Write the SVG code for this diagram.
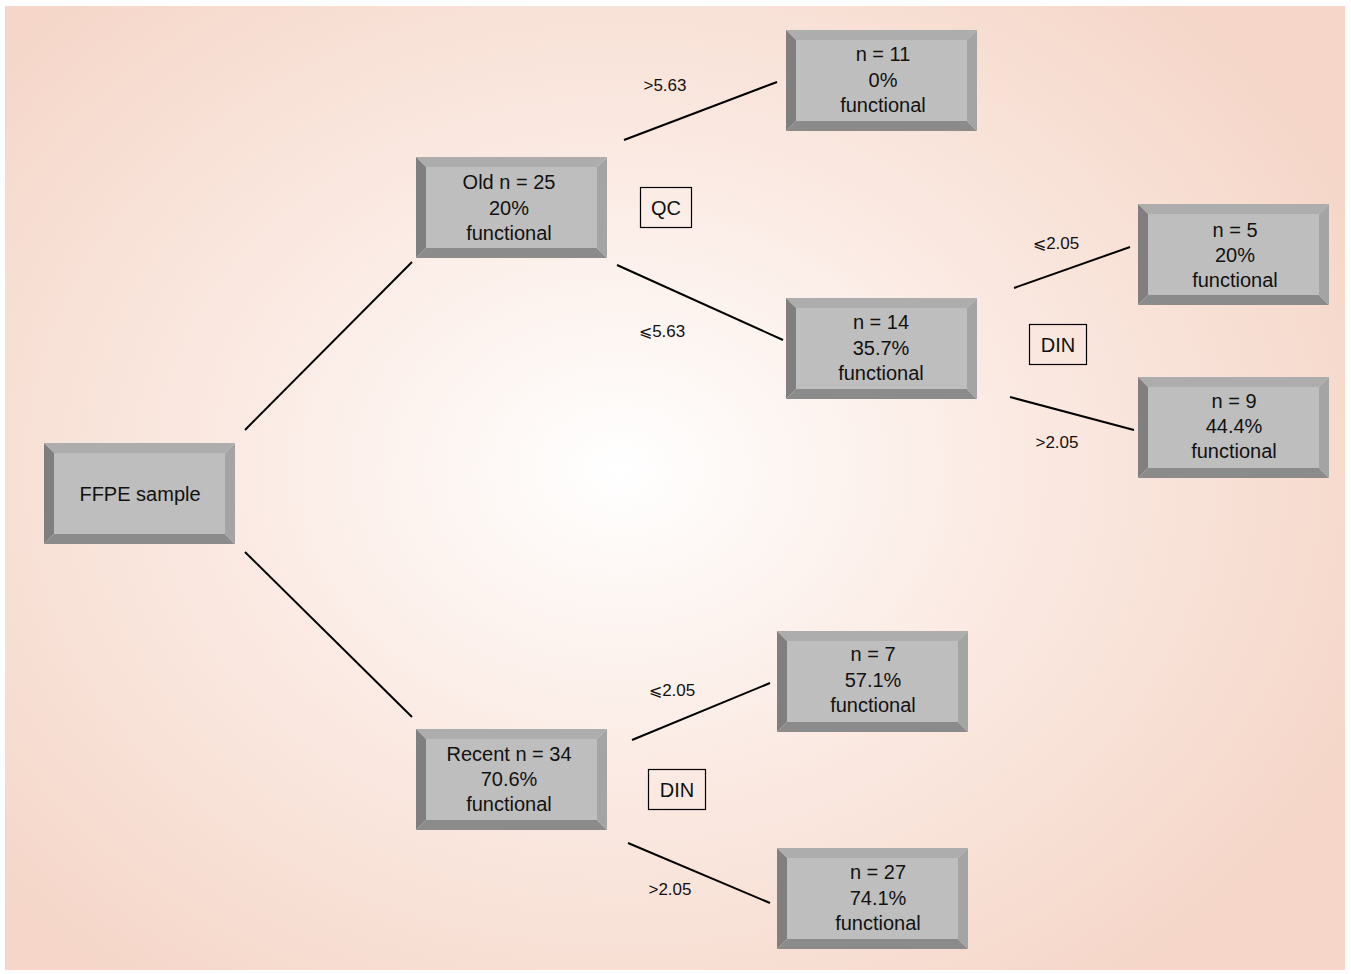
<svg xmlns="http://www.w3.org/2000/svg" xmlns:xlink="http://www.w3.org/1999/xlink" width="1351" height="974" viewBox="0 0 1351 974">
<defs>
<radialGradient id="bg" cx="620" cy="470" r="820" gradientUnits="userSpaceOnUse" gradientTransform="translate(620 470) scale(1 0.8) translate(-620 -470)">
<stop offset="0" stop-color="#ffffff"/>
<stop offset="0.45" stop-color="#fbebe4"/>
<stop offset="1" stop-color="#f5d6c8"/>
</radialGradient>
<g id="bevel">
<polygon points="0,0 191,0 181,10 10,10" fill="#adadad"/>
<polygon points="0,0 10,10 10,91 0,101" fill="#7f7f7f"/>
<polygon points="0,101 10,91 181,91 191,101" fill="#8b8b8b"/>
<polygon points="191,0 191,101 181,91 181,10" fill="#a4a4a4"/>
<rect x="10" y="10" width="171" height="81" fill="#bebebe"/>
</g>
</defs>
<style>
.t{font-family:"Liberation Sans",Arial,sans-serif;font-size:20px;fill:#111;text-anchor:middle}
.l{font-family:"Liberation Sans","DejaVu Sans",Arial,sans-serif;font-size:17px;fill:#111;text-anchor:middle}
.s{font-family:"DejaVu Sans",sans-serif;font-size:16px}
.c{stroke:#000;stroke-width:2;fill:none}
.b{fill:none;stroke:#000;stroke-width:1.2}
</style>
<rect width="1351" height="974" fill="#ffffff"/>
<rect x="5" y="6" width="1340" height="964" fill="url(#bg)"/>
<g id="connectors">
<line class="c" x1="245" y1="430" x2="412" y2="262"/>
<line class="c" x1="245" y1="552" x2="412" y2="717"/>
<line class="c" x1="624" y1="140" x2="777" y2="82"/>
<line class="c" x1="617" y1="265" x2="783" y2="340"/>
<line class="c" x1="1014" y1="288" x2="1130" y2="247"/>
<line class="c" x1="1010" y1="397" x2="1134" y2="430"/>
<line class="c" x1="632" y1="740" x2="770" y2="683"/>
<line class="c" x1="628" y1="843" x2="770" y2="903"/>
<text class="l" x="665" y="91">&gt;5.63</text>
<text class="l" x="662" y="337"><tspan class="s">⩽</tspan>5.63</text>
<text class="l" x="1056" y="249"><tspan class="s">⩽</tspan>2.05</text>
<text class="l" x="1057" y="448">&gt;2.05</text>
<text class="l" x="672" y="696"><tspan class="s">⩽</tspan>2.05</text>
<text class="l" x="670" y="895">&gt;2.05</text>
<rect class="b" x="640.5" y="187.5" width="51" height="40"/>
<text class="t" x="666" y="215">QC</text>
<rect class="b" x="1029.5" y="324.5" width="57" height="40"/>
<text class="t" x="1058" y="352">DIN</text>
<rect class="b" x="648.5" y="769.5" width="57" height="40"/>
<text class="t" x="677" y="797">DIN</text>
</g>
<g id="ffpe">
<use xlink:href="#bevel" x="44" y="443"/>
<text class="t" x="140" y="501">FFPE sample</text>
</g>
<g id="old">
<use xlink:href="#bevel" x="416" y="157"/>
<text class="t" x="509" y="189">Old n = 25</text>
<text class="t" x="509" y="215">20%</text>
<text class="t" x="509" y="240">functional</text>
</g>
<g id="recent">
<use xlink:href="#bevel" x="416" y="729"/>
<text class="t" x="509" y="761">Recent n = 34</text>
<text class="t" x="509" y="786">70.6%</text>
<text class="t" x="509" y="811">functional</text>
</g>
<g id="n11">
<use xlink:href="#bevel" x="786" y="30"/>
<text class="t" x="883" y="61">n = 11</text>
<text class="t" x="883" y="87">0%</text>
<text class="t" x="883" y="112">functional</text>
</g>
<g id="n14">
<use xlink:href="#bevel" x="786" y="298"/>
<text class="t" x="881" y="329">n = 14</text>
<text class="t" x="881" y="355">35.7%</text>
<text class="t" x="881" y="380">functional</text>
</g>
<g id="n5">
<use xlink:href="#bevel" x="1138" y="204"/>
<text class="t" x="1235" y="237">n = 5</text>
<text class="t" x="1235" y="262">20%</text>
<text class="t" x="1235" y="287">functional</text>
</g>
<g id="n9">
<use xlink:href="#bevel" x="1138" y="377"/>
<text class="t" x="1234" y="408">n = 9</text>
<text class="t" x="1234" y="433">44.4%</text>
<text class="t" x="1234" y="458">functional</text>
</g>
<g id="n7">
<use xlink:href="#bevel" x="777" y="631"/>
<text class="t" x="873" y="661">n = 7</text>
<text class="t" x="873" y="687">57.1%</text>
<text class="t" x="873" y="712">functional</text>
</g>
<g id="n27">
<use xlink:href="#bevel" x="777" y="848"/>
<text class="t" x="878" y="879">n = 27</text>
<text class="t" x="878" y="905">74.1%</text>
<text class="t" x="878" y="930">functional</text>
</g>
</svg>
